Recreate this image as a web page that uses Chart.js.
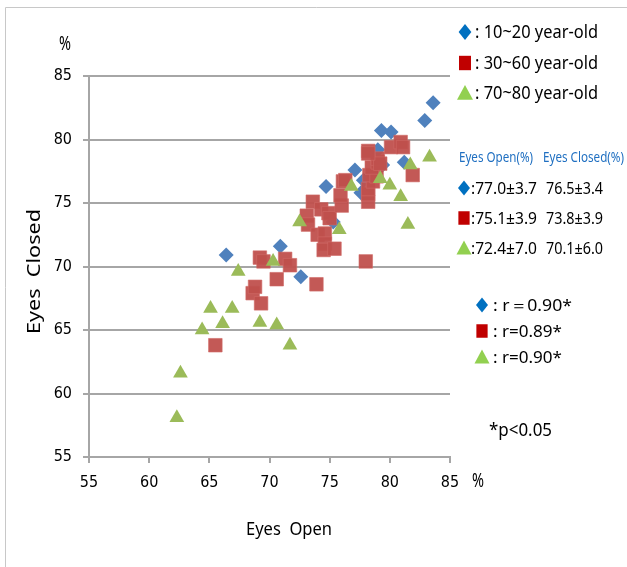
<!DOCTYPE html>
<html>
<head>
<meta charset="utf-8">
<script src="https://cdn.jsdelivr.net/npm/chart.js@4"></script>
<style>
html,body{margin:0;padding:0;background:#fff;}
#wrap{position:relative;width:627px;height:567px;}
canvas{display:block;}
</style>
</head>
<body>
<div id="wrap"><canvas id="c" width="627" height="567"></canvas></div>
<script>
// ---- data ----
const xTicks = [55, 60, 65, 70, 75, 80, 85];
const yTicks = [55, 60, 65, 70, 75, 80, 85];

const youngX = [66.4, 70.9, 72.6, 74.7, 75.3, 77.1, 77.6, 77.8, 79.0, 79.4, 79.3, 80.1, 81.2, 82.9, 83.6];
const youngY = [70.9, 71.6, 69.2, 76.3, 73.5, 77.6, 75.8, 76.8, 79.2, 78.0, 80.7, 80.6, 78.2, 81.5, 82.9];

const midX = [65.5, 68.6, 68.8, 69.3, 69.2, 69.5, 70.6, 71.3, 71.7, 73.9, 73.1, 73.2, 73.6, 74.0, 74.3, 74.6, 74.6, 74.5, 75.4, 74.9, 75.0, 76.0, 75.9, 76.1, 76.3, 78.0, 78.2, 78.2, 78.2, 78.6, 78.3, 78.9, 78.5, 79.0, 79.0, 78.2, 80.1, 80.9, 81.1, 81.9, 79.2, 78.2];
const midY = [63.8, 67.9, 68.4, 67.1, 70.7, 70.4, 69.0, 70.6, 70.1, 68.6, 74.0, 73.3, 75.1, 72.5, 74.5, 72.6, 71.8, 71.3, 71.4, 74.2, 73.8, 74.8, 75.6, 76.7, 76.8, 70.4, 75.1, 75.7, 76.1, 76.7, 77.2, 77.1, 77.8, 78.2, 78.5, 79.1, 79.4, 79.8, 79.4, 77.2, 78.1, 78.9];

const oldX = [62.3, 62.6, 64.4, 65.1, 66.1, 66.9, 67.4, 69.2, 70.3, 70.6, 71.7, 72.5, 75.8, 76.8, 79.2, 80.0, 80.9, 81.5, 81.7, 83.3];
const oldY = [58.1, 61.6, 65.0, 66.7, 65.5, 66.7, 69.6, 65.6, 70.4, 65.4, 63.8, 73.5, 72.9, 76.3, 76.9, 76.4, 75.5, 73.3, 78.0, 78.6];

const groupLabels = [': 10~20 year-old', ': 30~60 year-old', ': 70~80 year-old'];
const openStats = [':77.0\u00B13.7', ':75.1\u00B13.9', ':72.4\u00B17.0'];
const closedStats = ['76.5\u00B13.4', '73.8\u00B13.9', '70.1\u00B16.0'];
const rLabels = [': r\uFF1D0.90*', ': r=0.89*', ': r=0.90*'];

function pts(xs, ys){ return xs.map((x,i)=>({x:x, y:ys[i]})); }

const TICKFONT = "'DejaVu Sans Condensed','DejaVu Sans',sans-serif";
const TXT = "'Noto Sans','Open Sans',sans-serif";
const GRID = '#A6A6A6';

// draw text compressed horizontally to a target width, starting at left x
function fitText(ctx, text, x, y, w){
  const m = ctx.measureText(text).width;
  ctx.save();
  ctx.translate(x, y);
  ctx.scale(w/m, 1);
  ctx.textAlign='left';
  ctx.fillText(text, 0, 0);
  ctx.restore();
}

function legendMarker(ctx, kind, x, y, s){
  ctx.save();
  ctx.beginPath();
  if(kind==='d'){
    ctx.fillStyle='#0070C0';
    ctx.moveTo(x, y-s); ctx.lineTo(x+s*0.8, y); ctx.lineTo(x, y+s); ctx.lineTo(x-s*0.8, y);
  } else if(kind==='s'){
    ctx.fillStyle='#C00000';
    ctx.rect(x-s*0.75, y-s*0.9, s*1.5, s*1.8);
  } else {
    ctx.fillStyle='#92D050';
    ctx.moveTo(x, y-s); ctx.lineTo(x+s, y+s*0.85); ctx.lineTo(x-s, y+s*0.85);
  }
  ctx.closePath(); ctx.fill();
  ctx.restore();
}

const extras = {
  id:'extras',
  afterDraw(chart){
    const ctx = chart.ctx;
    ctx.save();
    // frame
    ctx.strokeStyle='#C8C8C8'; ctx.lineWidth=1;
    ctx.beginPath(); ctx.moveTo(5.5,567); ctx.lineTo(5.5,7.5); ctx.lineTo(627,7.5); ctx.stroke();

    ctx.fillStyle='#000';
    ctx.textBaseline='middle';
    ctx.font = "19px "+TXT;
    fitText(ctx, '%', 59, 45, 12);
    fitText(ctx, '%', 472, 482, 12);
    ctx.font = "18px "+TXT;
    fitText(ctx, 'Eyes  Open', 246, 530, 86);
    ctx.save();
    ctx.translate(35, 272); ctx.rotate(-Math.PI/2);
    fitText(ctx, 'Eyes  Closed', -62, 0, 125);
    ctx.restore();

    // group legend
    const kinds=['d','s','t'];
    const ly=[32,63,93];
    ctx.font = "18px "+TXT;
    for(let i=0;i<3;i++){
      legendMarker(ctx, kinds[i], 465, ly[i], 8);
      ctx.fillStyle='#000';
      fitText(ctx, groupLabels[i], 475, ly[i]+1, 123);
    }
    // stats block
    ctx.font = "15px "+TXT;
    ctx.fillStyle='#1F6FC1';
    fitText(ctx, 'Eyes Open(%)', 459, 158, 74);
    fitText(ctx, 'Eyes Closed(%)', 543, 158, 81);
    const sy=[188,218,248];
    ctx.font = "17px "+TXT;
    for(let i=0;i<3;i++){
      legendMarker(ctx, kinds[i], 464, sy[i], 7.5);
      ctx.fillStyle='#000';
      fitText(ctx, openStats[i], 471, sy[i]+1, 66);
      fitText(ctx, closedStats[i], 546, sy[i]+1, 57);
    }
    // r block
    const ry=[305,331,357];
    const rw=[79,69,69];
    ctx.font = "17px "+TXT;
    for(let i=0;i<3;i++){
      legendMarker(ctx, kinds[i], 482, ry[i], 7.5);
      ctx.fillStyle='#000';
      fitText(ctx, rLabels[i], 493, ry[i]+1, rw[i]);
    }
    ctx.font = "18px "+TXT;
    fitText(ctx, '*p<0.05', 489, 431, 63);
    ctx.restore();
  }
};

new Chart(document.getElementById('c'), {
  type:'scatter',
  data:{
    datasets:[
      {label:'10~20', data:pts(youngX,youngY), pointStyle:'rectRot', pointRadius:7.5,
       backgroundColor:'#4F81BD', borderColor:'#4F81BD', borderWidth:0, order:3},
      {label:'30~60', data:pts(midX,midY), pointStyle:'rect', pointRadius:9.6,
       backgroundColor:'rgba(192,80,77,0.95)', borderColor:'#D06A66', borderWidth:0.6, order:2},
      {label:'70~80', data:pts(oldX,oldY), pointStyle:'triangle', pointRadius:8.5,
       backgroundColor:'#9BBB59', borderColor:'#9BBB59', borderWidth:0, order:1}
    ]
  },
  options:{
    responsive:false, animation:false,
    devicePixelRatio:1,
    layout:{padding:{left:0, top:76, right:177, bottom:70}},
    plugins:{legend:{display:false}, tooltip:{enabled:false}},
    scales:{
      x:{
        type:'linear', min:55, max:85,
        afterBuildTicks(s){ s.ticks = xTicks.map(v=>({value:v})); },
        afterFit(s){ s.height = 40; },
        grid:{drawOnChartArea:false, drawTicks:true, tickLength:6, color:GRID, lineWidth:2},
        border:{display:true, color:GRID, width:2},
        ticks:{padding:10, color:'#000', font:{family:TICKFONT, size:16}, maxRotation:0}
      },
      y:{
        type:'linear', min:55, max:85,
        afterBuildTicks(s){ s.ticks = yTicks.map(v=>({value:v})); },
        afterFit(s){ s.width = 89; },
        grid:{drawOnChartArea:true, drawTicks:true, tickLength:6, color:GRID, lineWidth:2},
        border:{display:true, color:GRID, width:2},
        ticks:{padding:11, color:'#000', font:{family:TICKFONT, size:16}}
      }
    }
  },
  plugins:[extras]
});
</script>
</body>
</html>
